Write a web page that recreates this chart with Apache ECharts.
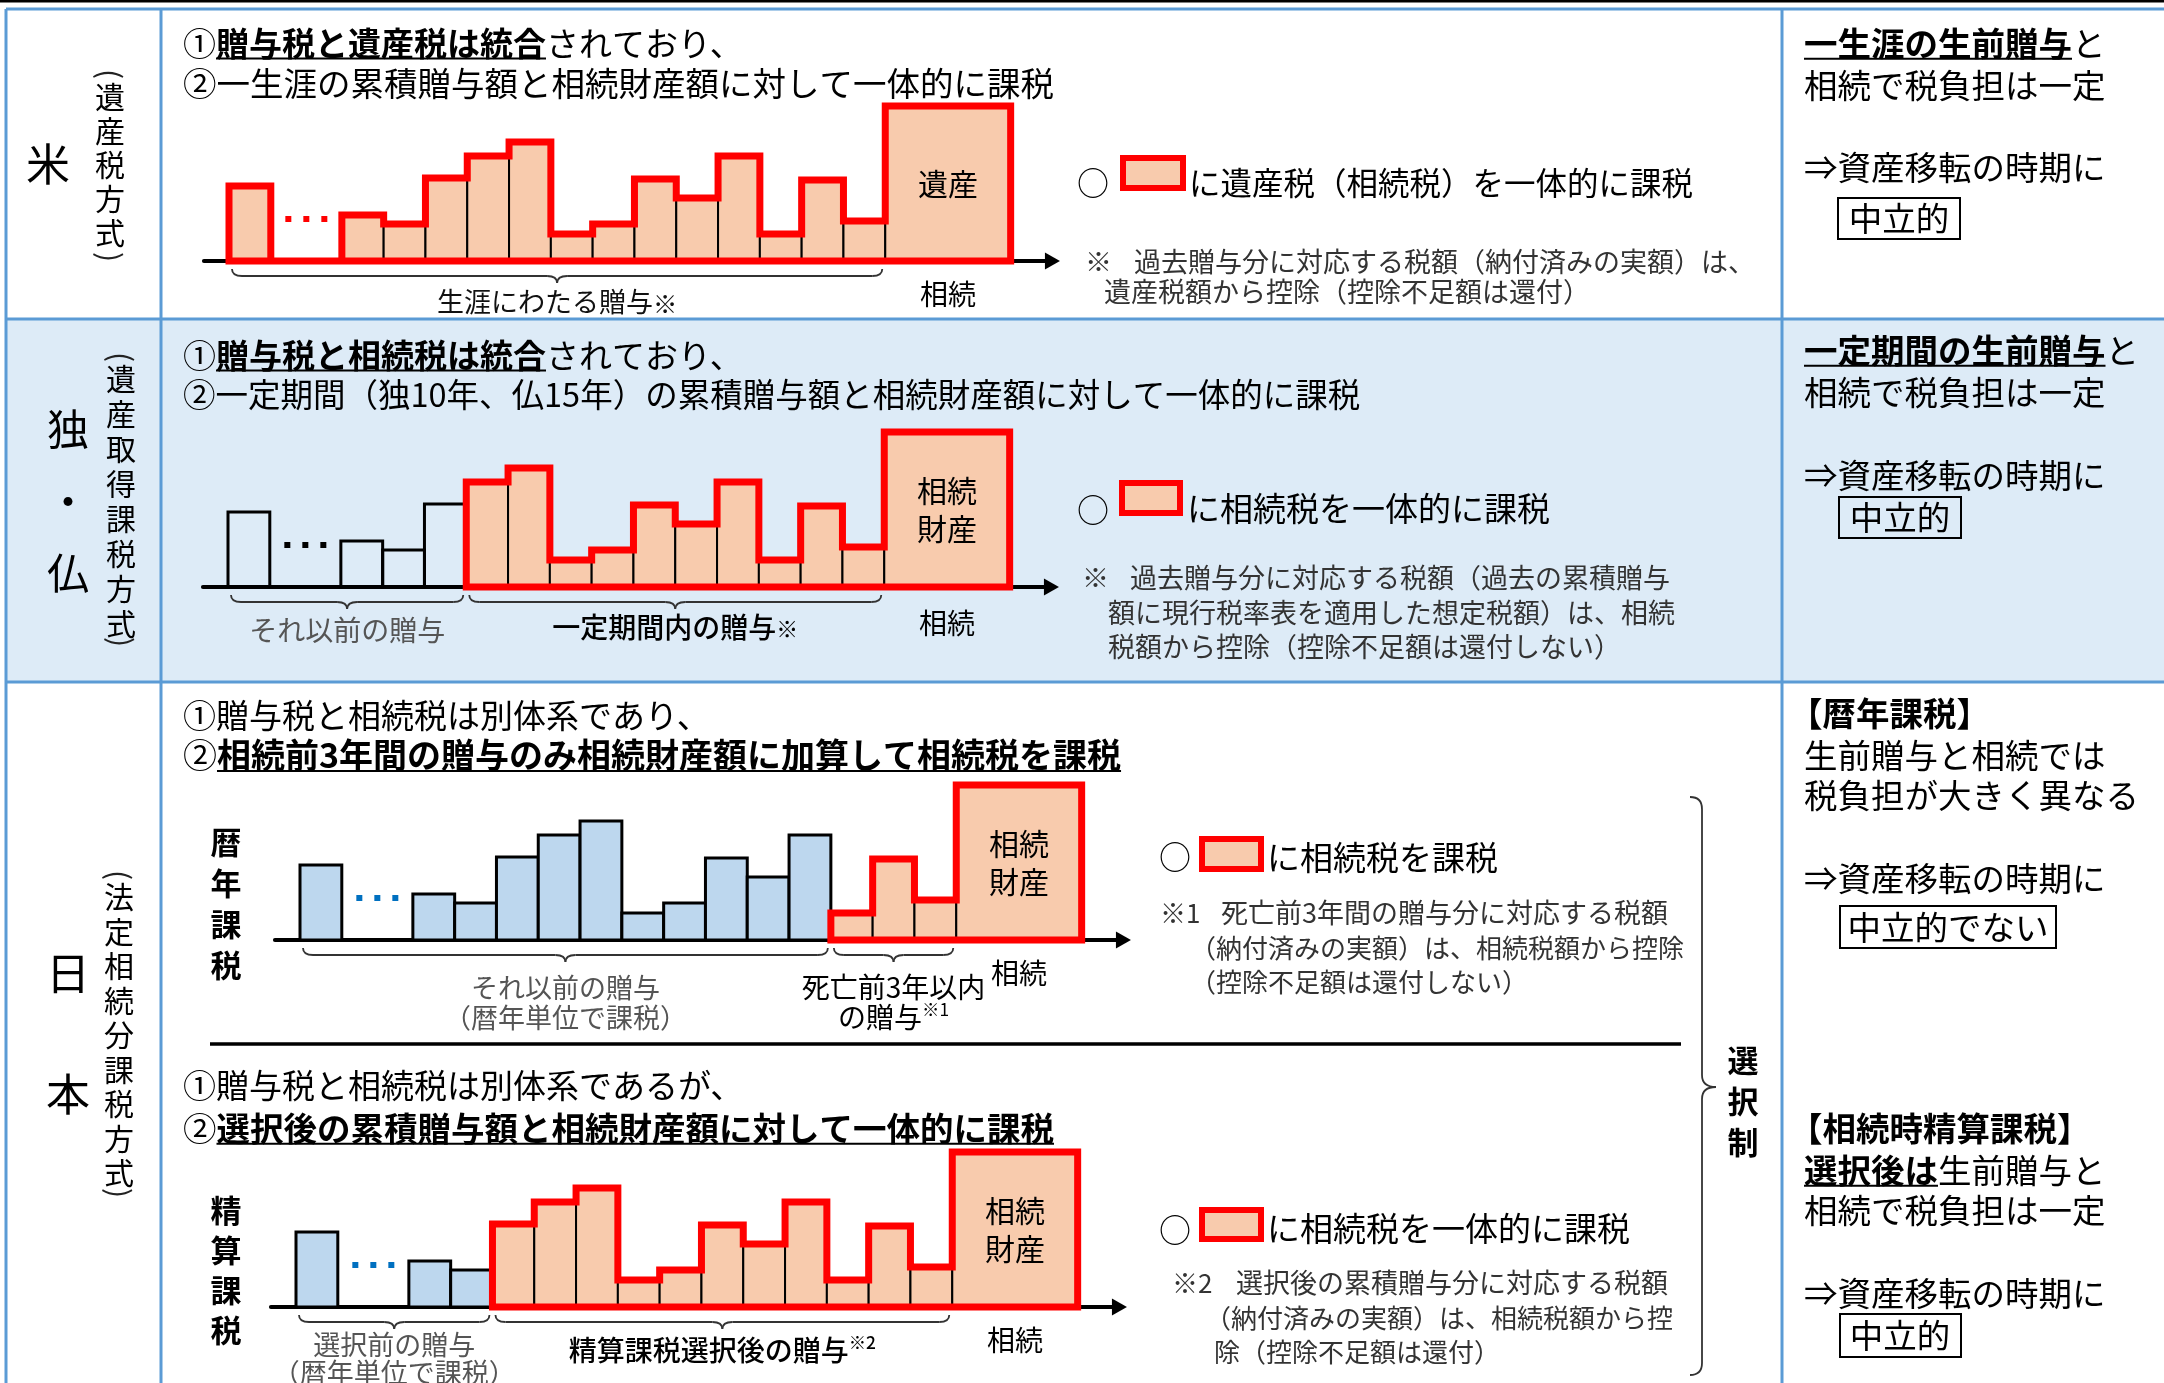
<!DOCTYPE html>
<html><head><meta charset="utf-8">
<script src="https://cdn.jsdelivr.net/npm/echarts@6/dist/echarts.min.js"></script>
<style>html,body{margin:0;padding:0;background:#fff;overflow:hidden}#c{width:2164px;height:1383px}</style>
</head><body><div id="c"></div><script>
// ---------------- data ----------------
const giftValues = [75, 46, 37, 83, 105, 119, 27, 37, 82, 63, 105, 27, 81, 40];
const estateValue = 155;
const estateLabels = ['遺産', '相続\n財産', '相続\n財産', '相続\n財産'];
const inheritLabel = '相続';
const taxedFrom = [0, 4, 11, 3];
const braceTexts = [
  [['生涯にわたる贈与※']],
  [['それ以前の贈与'], ['一定期間内の贈与※']],
  [['それ以前の贈与', '（暦年単位で課税）'], ['死亡前3年以内', 'の贈与※1']],
  [['選択前の贈与', '（暦年単位で課税）'], ['精算課税選択後の贈与※2']]
];

// ---------------- style / layout ----------------
const FF = '"Noto Sans CJK JP", "Noto Sans CJK SC", sans-serif';
const RED = '#FF0000', PEACH = '#F8CBAD', BLUE = '#BDD7EE', LINE_BLUE = '#5B9BD5', BG_BLUE = '#DDEBF7';
const SLOT = 41.8, GAP = 1.7, ESTATE_W = 3, XMIN = -0.6, XMAX = 19.7, YMAX = 170;
const ESTATE_X = giftValues.length + GAP;
function giftStart(i) { return i === 0 ? 0 : i + GAP; }

const panels = [
  {left: 229, base: 261, plain: null, dot: RED, inhOff: 33,
   braces: [{color: '#111', weight: 'normal', size: 27, off: 41, sup: 0.9}]},
  {left: 228, base: 587, plain: 'white', dot: '#000', inhOff: 36,
   braces: [{color: '#555', weight: 'normal', size: 28, off: 43}, {color: '#000', weight: '500', size: 28, off: 40}]},
  {left: 300, base: 940, plain: 'blue', dot: '#0070C0', inhOff: 33,
   braces: [{color: '#555', weight: 'normal', size: 27, off: 48, gap: 30}, {color: '#000', weight: 'normal', size: 28, off: 47, gap: 30}]},
  {left: 296, base: 1307, plain: 'blue', dot: '#0070C0', inhOff: 33,
   braces: [{color: '#555', weight: 'normal', size: 27, off: 38, gap: 28}, {color: '#000', weight: '500', size: 28, off: 43}]}
];

const mctx = document.createElement('canvas').getContext('2d');
function fontStr(size, weight) { return (weight || 'normal') + ' ' + size + 'px ' + FF; }
function measure(t, f) { mctx.font = f; return mctx.measureText(t).width; }

function rectOf(api, x0, x1, h) {
  const p0 = api.coord([x0, h]), p1 = api.coord([x1, 0]);
  return {x: p0[0], y: p0[1], width: p1[0] - p0[0], height: p1[1] - p0[1]};
}

function labelEls(cx, y, text, st) {
  const size = st.size, color = st.color, weight = st.weight;
  const f = fontStr(size, weight);
  const idx = text.indexOf('※');
  if (idx < 0) {
    return [{type: 'text', style: {text, x: cx, y, font: f, fill: color, textAlign: 'center', textVerticalAlign: 'middle'}}];
  }
  const main = text.slice(0, idx), sup = text.slice(idx);
  const supSize = sup.length > 1 ? size * 0.62 : size * (st.sup || 0.78);
  const sf = fontStr(supSize, weight);
  const wm = measure(main, f), ws = measure(sup, sf);
  const x0 = cx - (wm + ws) / 2;
  const sy = sup.length > 1 ? y - size * 0.28 : y + size * 0.06;
  return [
    {type: 'text', style: {text: main, x: x0, y, font: f, fill: color, textAlign: 'left', textVerticalAlign: 'middle'}},
    {type: 'text', style: {text: sup, x: x0 + wm, y: sy, font: sf, fill: color, textAlign: 'left', textVerticalAlign: 'middle'}}
  ];
}

function braceParts(x1, x2, y, stroke) {
  const xm = (x1 + x2) / 2, y1 = y + 7, y2 = y + 14, r = 10;
  const st = {fill: 'none', stroke, lineWidth: 1.8};
  return [
    {type: 'bezierCurve', shape: {x1: x1, y1: y, cpx1: x1, cpy1: y1, x2: x1 + r, y2: y1}, style: st},
    {type: 'line', shape: {x1: x1 + r, y1: y1, x2: xm - r, y2: y1}, style: st},
    {type: 'bezierCurve', shape: {x1: xm - r, y1: y1, cpx1: xm, cpy1: y1, x2: xm, y2: y2}, style: st},
    {type: 'bezierCurve', shape: {x1: xm, y1: y2, cpx1: xm, cpy1: y1, x2: xm + r, y2: y1}, style: st},
    {type: 'line', shape: {x1: xm + r, y1: y1, x2: x2 - r, y2: y1}, style: st},
    {type: 'bezierCurve', shape: {x1: x2 - r, y1: y1, cpx1: x2, cpy1: y1, x2: x2, y2: y}, style: st}
  ];
}

const grids = [], xAxes = [], yAxes = [], series = [];
panels.forEach((p, k) => {
  grids.push({left: p.left + XMIN * SLOT, top: p.base - YMAX, width: (XMAX - XMIN) * SLOT, height: YMAX});
  xAxes.push({gridIndex: k, type: 'value', min: XMIN, max: XMAX,
    axisLine: {show: true, onZero: false, lineStyle: {color: '#000', width: 4}, symbol: ['none', 'triangle'], symbolSize: [17, 15]},
    axisTick: {show: false}, axisLabel: {show: false}, splitLine: {show: false}});
  yAxes.push({gridIndex: k, type: 'value', min: 0, max: YMAX, show: false});

  const tf = taxedFrom[k];
  const common = {type: 'custom', coordinateSystem: 'cartesian2d', xAxisIndex: k, yAxisIndex: k,
    encode: {x: 0, y: 1}, silent: true, animation: false};

  const allGifts = giftValues.map((v, i) => [giftStart(i), v]);
  const plainData = allGifts.filter((d, i) => i < tf);
  if (plainData.length) {
    series.push(Object.assign({}, common, {
      data: plainData,
      renderItem: (params, api) => {
        const x = api.value(0), h = api.value(1);
        return {type: 'rect', shape: rectOf(api, x, x + 1, h),
          style: {fill: p.plain === 'blue' ? BLUE : 'none', stroke: '#000', lineWidth: 3}};
      }
    }));
  }

  const taxedData = allGifts.filter((d, i) => i >= tf).concat([[ESTATE_X, estateValue]]);
  series.push(Object.assign({}, common, {
    data: taxedData,
    renderItem: (params, api) => {
      const x = api.value(0), h = api.value(1);
      const isEstate = params.dataIndex === taxedData.length - 1;
      const w = isEstate ? ESTATE_W : 1;
      const children = [{type: 'rect', shape: rectOf(api, x, x + w, h),
        style: {fill: PEACH, stroke: '#000', lineWidth: 2}}];
      if (isEstate) {
        const c = api.coord([x + w / 2, h / 2]);
        children.push({type: 'text', z2: 5, style: {text: estateLabels[k], x: c[0], y: c[1], font: fontStr(30),
          fill: '#000', textAlign: 'center', textVerticalAlign: 'middle', lineHeight: 38}});
        const b = api.coord([x + w / 2, 0]);
        children.push({type: 'text', style: {text: inheritLabel, x: b[0], y: b[1] + p.inhOff, font: fontStr(28),
          fill: '#000', textAlign: 'center', textVerticalAlign: 'middle'}});
      }
      return {type: 'group', children};
    }
  }));

  // red outline of everything taxed together
  series.push(Object.assign({}, common, {
    data: [[0, 0]], z: 3,
    renderItem: (params, api) => {
      const segs = [];
      for (let i = tf; i < giftValues.length; i++) {
        const s = giftStart(i);
        segs.push([s, s + 1, giftValues[i]]);
        if (i === 0) segs.push([1, 1 + GAP, 0]);
      }
      segs.push([ESTATE_X, ESTATE_X + ESTATE_W, estateValue]);
      const pts = [api.coord([segs[0][0], 0])];
      segs.forEach(s => { pts.push(api.coord([s[0], s[2]])); pts.push(api.coord([s[1], s[2]])); });
      pts.push(api.coord([segs[segs.length - 1][1], 0]));
      return {type: 'polygon', shape: {points: pts},
        style: {fill: 'none', stroke: RED, lineWidth: 7, lineJoin: 'miter'}};
    }
  }));

  // "..." between the first gift and the later ones
  series.push(Object.assign({}, common, {
    data: [[1 + GAP / 2, 0]], z: 4,
    renderItem: (params, api) => {
      const c = api.coord([api.value(0), 0]);
      const children = [-18, 0, 18].map(dx => ({type: 'rect',
        shape: {x: c[0] + dx - 3, y: c[1] - 42 - 3, width: 6, height: 6}, style: {fill: p.dot}}));
      return {type: 'group', children};
    }
  }));

  // braces with their labels
  const spans = tf === 0 ? [[0, ESTATE_X]] : [[0, giftStart(tf)], [giftStart(tf), ESTATE_X]];
  series.push(Object.assign({}, common, {
    data: spans, z: 4,
    renderItem: (params, api) => {
      const a = api.coord([api.value(0), 0]), b = api.coord([api.value(1), 0]);
      const st = p.braces[params.dataIndex];
      const lines = braceTexts[k][params.dataIndex];
      const children = braceParts(a[0] + 3, b[0] - 3, a[1] + 8, '#333');
      const cx = (a[0] + b[0]) / 2;
      lines.forEach((t, j) => {
        labelEls(cx, a[1] + st.off + j * (st.gap || 30), t, st).forEach(e => children.push(e));
      });
      return {type: 'group', children};
    }
  }));
});

// ---------------- static text / table ----------------
function T(x, y, text, size, o) {
  o = o || {};
  const style = {text, font: fontStr(size, o.weight), fill: o.color || '#000',
    textAlign: o.align || 'left', textVerticalAlign: 'middle'};
  if (o.lh) style.lineHeight = o.lh;
  const el = {type: 'text', x, y, z: 5, style};
  if (o.rot) el.rotation = o.rot;
  return el;
}
function seq(x, y, parts, size) {
  const els = []; let cx = x;
  parts.forEach(([t, bold, ul]) => {
    const f = fontStr(size, bold ? 'bold' : 'normal');
    const w = measure(t, f);
    els.push({type: 'text', x: cx, y, z: 5, style: {text: t, font: f, fill: '#000', textAlign: 'left', textVerticalAlign: 'middle'}});
    if (ul) els.push({type: 'line', z: 5, shape: {x1: cx, y1: y + size * 0.47, x2: cx + w, y2: y + size * 0.47},
      style: {stroke: '#000', lineWidth: 2}});
    cx += w;
  });
  return els;
}
function vtext(x, y, str, size, lh, weight) {
  return T(x, y, str.split('').join('\n'), size, {align: 'center', lh, weight});
}
// vertical label in parentheses: top paren, characters, bottom paren (parens turned for vertical writing)
function vparen(x, yTopParen, yFirst, step, str, yBotParen) {
  const els = [T(x, yTopParen, '(', 30, {align: 'center', rot: -Math.PI / 2, color: '#222'})];
  const n = str.length;
  els.push(vtext(x, yFirst + step * (n - 1) / 2, str, 30, step));
  els.push(T(x, yBotParen, ')', 30, {align: 'center', rot: -Math.PI / 2, color: '#222'}));
  return els;
}
function line(x1, y1, x2, y2, color, w) {
  return {type: 'line', z: 2, shape: {x1, y1, x2, y2}, style: {stroke: color, lineWidth: w}};
}
function legendBox(x, y, w, h) {
  return {type: 'rect', z: 5, shape: {x, y, width: w, height: h}, style: {fill: PEACH, stroke: RED, lineWidth: 6}};
}
function frameBox(x, y, w, h) {
  return {type: 'rect', z: 5, shape: {x, y, width: w, height: h}, style: {fill: 'none', stroke: '#000', lineWidth: 2}};
}

const H = 33, NC = '#333', RX = 1804;
let g = [];
g.push({type: 'rect', z: -1, shape: {x: 6, y: 319, width: 2158, height: 363}, style: {fill: BG_BLUE}});
g.push({type: 'rect', z: 2, shape: {x: 0, y: 0, width: 2164, height: 2.5}, style: {fill: '#000'}});
[9, 319, 682].forEach(y => g.push(line(6, y, 2164, y, LINE_BLUE, 3)));
[6, 161, 1782].forEach(x => g.push(line(x, 9, x, 1383, LINE_BLUE, 3)));

// country labels
g.push(T(48, 164, '米', 44, {align: 'center'}));
g = g.concat(vparen(110, 74, 97, 34, '遺産税方式', 257));
g.push(T(68, 501, '独\n・\n仏', 42, {align: 'center', lh: 72}));
g = g.concat(vparen(121, 357, 379, 35, '遺産取得課税方式', 642));
g.push(T(68, 1034, '日\n本', 44, {align: 'center', lh: 121}));
g = g.concat(vparen(119, 875, 897, 34.5, '法定相続分課税方式', 1193));

// headlines
g = g.concat(seq(183, 43, [['①'], ['贈与税と遺産税は統合', 1, 1], ['されており、']], 33));
g = g.concat(seq(183, 83, [['②一生涯の累積贈与額と相続財産額に対して一体的に課税']], 33.5));
g = g.concat(seq(183, 355, [['①'], ['贈与税と相続税は統合', 1, 1], ['されており、']], 33));
g = g.concat(seq(183, 395, [['②一定期間（独10年、仏15年）の累積贈与額と相続財産額に対して一体的に課税']], 32.5));
g = g.concat(seq(183, 715, [['①贈与税と相続税は別体系であり、']], 33));
g = g.concat(seq(183, 755, [['②'], ['相続前3年間の贈与のみ相続財産額に加算して相続税を課税', 1, 1]], 34));
g = g.concat(seq(183, 1085, [['①贈与税と相続税は別体系であるが、']], 33));
g = g.concat(seq(183, 1128, [['②'], ['選択後の累積贈与額と相続財産額に対して一体的に課税', 1, 1]], 33.5));

// vertical chart labels (Japan)
g.push(vtext(226, 904, '暦年課税', 31, 41, 'bold'));
g.push(vtext(226, 1270, '精算課税', 31, 40, 'bold'));
g.push(line(210, 1044, 1681, 1044, '#000', 3.5));

// legends
g.push(T(1093, 183, '○', 32, {align: 'center'}));
g.push(legendBox(1123, 158, 60, 30));
g.push(T(1189, 183, 'に遺産税（相続税）を一体的に課税', 31.5));
g.push(T(1093, 510, '○', 32, {align: 'center'}));
g.push(legendBox(1122, 483, 58, 30));
g.push(T(1187, 508, 'に相続税を一体的に課税', H));
g.push(T(1175, 857, '○', 32, {align: 'center'}));
g.push(legendBox(1202, 839, 59, 30));
g.push(T(1267, 857, 'に相続税を課税', H));
g.push(T(1175, 1230, '○', 32, {align: 'center'}));
g.push(legendBox(1202, 1210, 59, 29));
g.push(T(1267, 1228, 'に相続税を一体的に課税', H));

// notes
const N1 = 27, N3 = 26;
g.push(T(1085, 262, '※', N1, {color: NC}));
g.push(T(1134, 262, '過去贈与分に対応する税額（納付済みの実額）は、', N1, {color: NC}));
g.push(T(1104, 292, '遺産税額から控除（控除不足額は還付）', N1, {color: NC}));
g.push(T(1082, 578, '※', N1, {color: NC}));
g.push(T(1130, 578, '過去贈与分に対応する税額（過去の累積贈与', N1, {color: NC}));
g.push(T(1108, 613, '額に現行税率表を適用した想定税額）は、相続', N1, {color: NC}));
g.push(T(1108, 647, '税額から控除（控除不足額は還付しない）', N1, {color: NC}));
g.push(T(1160, 913, '※1', N3, {color: NC}));
g.push(T(1221, 913, '死亡前3年間の贈与分に対応する税額', N3 + 1, {color: NC}));
g.push(T(1190, 948, '（納付済みの実額）は、相続税額から控除', N3, {color: NC}));
g.push(T(1190, 982, '（控除不足額は還付しない）', N3, {color: NC}));
g.push(T(1172, 1283, '※2', N3, {color: NC}));
g.push(T(1236, 1283, '選択後の累積贈与分に対応する税額', N3 + 1, {color: NC}));
g.push(T(1205, 1318, '（納付済みの実額）は、相続税額から控', N3, {color: NC}));
g.push(T(1214, 1352, '除（控除不足額は還付）', N3, {color: NC}));

// 選択制 brace (vertical "}")
(function () {
  const st = {fill: 'none', stroke: '#333', lineWidth: 1.8};
  const x = 1702, top = 797, mid = 1087, bot = 1375, r = 12;
  [
    {type: 'bezierCurve', shape: {x1: x - r, y1: top, cpx1: x, cpy1: top, x2: x, y2: top + r}},
    {type: 'line', shape: {x1: x, y1: top + r, x2: x, y2: mid - r}},
    {type: 'bezierCurve', shape: {x1: x, y1: mid - r, cpx1: x, cpy1: mid, x2: x + 14, y2: mid}},
    {type: 'bezierCurve', shape: {x1: x + 14, y1: mid, cpx1: x, cpy1: mid, x2: x, y2: mid + r}},
    {type: 'line', shape: {x1: x, y1: mid + r, x2: x, y2: bot - r}},
    {type: 'bezierCurve', shape: {x1: x, y1: bot - r, cpx1: x, cpy1: bot, x2: x - r, y2: bot}}
  ].forEach(e => { e.style = st; e.z = 5; g.push(e); });
})();
g.push(vtext(1743, 1101, '選択制', 31, 41, 'bold'));

// right column
const RS = 33.5;
g = g.concat(seq(RX, 43, [['一生涯の生前贈与', 1, 1], ['と']], RS));
g.push(T(RX, 85, '相続で税負担は一定', RS));
g.push(T(RX, 167, '⇒資産移転の時期に', RS));
g.push(frameBox(1838, 198, 122, 41));
g.push(T(1899, 218, '中立的', RS, {align: 'center'}));

g = g.concat(seq(RX, 350, [['一定期間の生前贈与', 1, 1], ['と']], RS));
g.push(T(RX, 392, '相続で税負担は一定', RS));
g.push(T(RX, 475, '⇒資産移転の時期に', RS));
g.push(frameBox(1839, 497, 122, 41));
g.push(T(1900, 517, '中立的', RS, {align: 'center'}));

g.push(T(1789, 713, '【暦年課税】', RS, {weight: 'bold'}));
g.push(T(RX, 755, '生前贈与と相続では', RS));
g.push(T(RX, 795, '税負担が大きく異なる', RS));
g.push(T(RX, 878, '⇒資産移転の時期に', RS));
g.push(frameBox(1840, 906, 216, 42));
g.push(T(1948, 927, '中立的でない', RS, {align: 'center'}));

g.push(T(1789, 1128, '【相続時精算課税】', RS, {weight: 'bold'}));
g = g.concat(seq(RX, 1170, [['選択後は', 1, 1], ['生前贈与と']], RS));
g.push(T(RX, 1210, '相続で税負担は一定', RS));
g.push(T(RX, 1293, '⇒資産移転の時期に', RS));
g.push(frameBox(1840, 1314, 121, 43));
g.push(T(1900, 1335, '中立的', RS, {align: 'center'}));

const chart = echarts.init(document.getElementById('c'), null, {renderer: 'canvas'});
chart.setOption({
  animation: false,
  backgroundColor: '#fff',
  grid: grids, xAxis: xAxes, yAxis: yAxes,
  series,
  graphic: {elements: g}
});
</script></body></html>
